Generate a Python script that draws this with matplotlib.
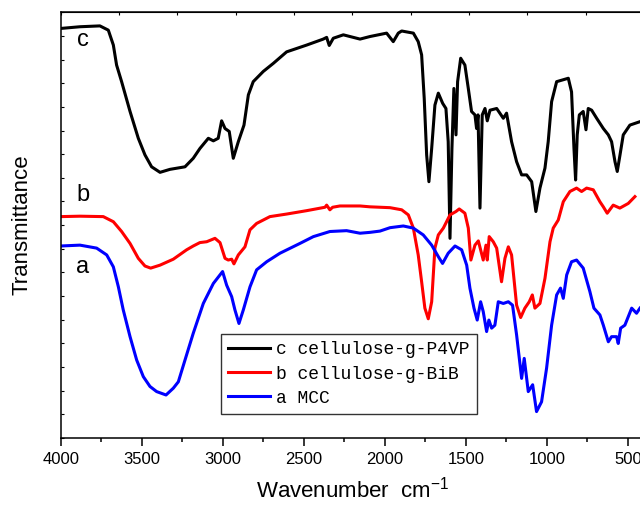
import numpy as np
import matplotlib.pyplot as plt
from matplotlib.ticker import MultipleLocator

plt.rcParams['font.family'] = ['Liberation Sans', 'DejaVu Sans']
plt.rcParams['mathtext.fontset'] = 'custom'
plt.rcParams['mathtext.rm'] = 'Liberation Sans'

# c cellulose-g-P4VP
wn_c = [4000, 3881, 3758, 3706, 3675, 3655, 3624, 3572, 3521, 3480, 3439, 3387, 3326, 3233,
        3182, 3141, 3089, 3058, 3028, 3007, 2986, 2960, 2935, 2904, 2869, 2842, 2812, 2750,
        2688, 2606, 2482, 2380, 2359, 2343, 2318, 2256, 2153, 2092, 1989, 1948, 1917, 1896,
        1824, 1794, 1773, 1757, 1742, 1728, 1711, 1691, 1670, 1643, 1623, 1609, 1598, 1586,
        1574, 1561, 1551, 1532, 1506, 1485, 1465, 1444, 1434, 1425, 1413, 1399, 1382, 1368,
        1351, 1310, 1269, 1249, 1218, 1187, 1156, 1125, 1094, 1068, 1043, 1012, 992, 971, 940,
        868, 848, 833, 823, 813, 800, 776, 759, 745, 724, 693, 652, 621, 601, 580, 566, 549,
        529, 488, 426]
t_c = [96.2, 96.6, 96.8, 95.8, 92.3, 87.6, 83.7, 76.7, 70.4, 66.5, 63.7, 62.4, 63.1, 63.7,
       65.7, 68.0, 70.4, 69.8, 70.4, 74.5, 72.7, 72.0, 65.7, 69.6, 73.5, 80.6, 83.7, 86.1,
       88.0, 90.7, 92.3, 93.7, 94.1, 92.2, 93.9, 94.7, 93.7, 94.3, 95.1, 93.1, 95.1, 95.6,
       95.1, 93.1, 90.0, 79.8, 66.5, 60.2, 68.0, 78.2, 81.0, 78.6, 77.4, 69.6, 46.9, 68.0,
       82.1, 71.2, 83.7, 89.2, 87.6, 82.1, 76.7, 75.9, 72.7, 75.9, 54.0, 75.9, 77.4, 74.5,
       77.0, 77.4, 75.1, 76.3, 69.6, 64.9, 61.8, 61.8, 60.2, 53.2, 58.7, 63.4, 69.6, 79.0, 83.7,
       84.5, 81.3, 68.0, 60.6, 71.2, 75.9, 76.7, 72.4, 77.4, 77.0, 75.1, 72.7, 71.2, 69.6, 64.9,
       62.6, 66.5, 71.2, 73.5, 74.3]

# b cellulose-g-BiB
wn_b = [4000, 3881, 3737, 3675, 3624, 3572, 3521, 3480, 3445, 3387, 3305, 3223, 3182, 3141,
        3099, 3048, 3017, 2986, 2966, 2945, 2931, 2904, 2863, 2832, 2791, 2709, 2606, 2482,
        2369, 2359, 2339, 2322, 2277, 2153, 2092, 1968, 1896, 1855, 1824, 1794, 1773, 1753,
        1732, 1711, 1691, 1670, 1639, 1598, 1561, 1541, 1506, 1485, 1469, 1444, 1423, 1393,
        1376, 1368, 1356, 1331, 1310, 1280, 1259, 1238, 1218, 1187, 1162, 1136, 1109, 1090,
        1074, 1043, 1012, 981, 961, 930, 899, 858, 817, 786, 755, 714, 673, 652, 628, 591,
        550, 498, 457]
t_b = [52.0, 52.1, 52.0, 50.8, 48.5, 45.7, 42.2, 40.4, 39.9, 40.6, 42.0, 44.2, 45.1, 45.9,
       46.1, 46.9, 45.9, 42.2, 41.8, 42.0, 40.9, 43.0, 44.9, 48.9, 50.4, 52.0, 52.6, 53.4,
       54.2, 54.7, 53.6, 54.2, 54.5, 54.5, 54.3, 54.1, 53.6, 52.4, 49.3, 43.0, 36.7, 30.5,
       28.0, 32.0, 44.6, 47.7, 49.3, 52.4, 53.2, 53.8, 52.8, 49.3, 41.8, 45.3, 46.3, 41.8,
       45.3, 41.8, 47.3, 46.1, 44.6, 36.7, 42.2, 44.9, 43.0, 31.2, 28.3, 30.5, 32.0, 33.6,
       30.5, 31.6, 37.5, 46.1, 49.3, 51.2, 55.5, 57.9, 58.7, 57.9, 58.7, 58.3, 55.5, 54.3,
       52.8, 54.7, 54.0, 55.1, 56.7]

# a MCC
wn_a = [4000, 3881, 3778, 3716, 3675, 3644, 3614, 3572, 3531, 3490, 3449, 3408, 3350, 3305,
        3274, 3233, 3182, 3120, 3058, 3001, 2976, 2945, 2925, 2900, 2873, 2832, 2791, 2729,
        2647, 2524, 2441, 2339, 2236, 2153, 2092, 2030, 1968, 1886, 1824, 1763, 1711, 1670,
        1644, 1609, 1567, 1526, 1495, 1475, 1450, 1430, 1409, 1393, 1372, 1358, 1341, 1321,
        1300, 1269, 1238, 1212, 1187, 1156, 1140, 1115, 1088, 1064, 1033, 1002, 971, 940, 916,
        899, 878, 848, 817, 776, 735, 710, 673, 652, 621, 601, 570, 560, 545, 519, 477, 447, 426]
t_a = [45.1, 45.3, 44.6, 43.0, 40.2, 35.5, 30.1, 23.8, 18.3, 14.4, 12.1, 10.9, 10.1, 11.7,
       13.2, 18.3, 24.6, 31.6, 36.3, 39.1, 35.9, 33.2, 30.1, 26.9, 30.1, 35.5, 39.5, 41.4,
       43.4, 45.7, 47.3, 48.5, 48.7, 48.1, 48.3, 48.6, 49.4, 49.8, 49.3, 47.7, 45.3, 42.6,
       41.0, 43.4, 45.1, 44.2, 40.6, 35.2, 30.5, 27.7, 32.0, 29.7, 25.0, 27.7, 25.8, 26.5,
       32.0, 31.6, 32.0, 31.2, 24.2, 14.0, 18.7, 10.9, 12.5, 6.2, 8.5, 16.4, 26.5, 33.6, 35.2,
       32.8, 38.3, 41.4, 41.8, 39.9, 34.4, 30.5, 28.9, 26.5, 22.6, 23.8, 23.8, 22.2, 25.8,
       26.5, 30.5, 29.3, 30.5]

labels = ['c cellulose-g-P4VP', 'b cellulose-g-BiB', 'a MCC']
colors = ['black', 'red', 'blue']

fig = plt.figure(figsize=(6.4, 5.05), dpi=100)
ax = fig.add_axes([0.0948, 0.1327, 0.9117, 0.843])

for wn, t, c, lab in zip([wn_c, wn_b, wn_a], [t_c, t_b, t_a], colors, labels):
    ax.plot(wn, t, color=c, lw=2.2, label=lab, solid_joinstyle='round')

ax.set_xlim(4000, 400)
ax.set_ylim(0, 100)

ax.text(3862, 93.4, 'c', fontsize=17, ha='center', va='center')
ax.text(3862, 57, 'b', fontsize=17, ha='center', va='center')
ax.text(3862, 40.2, 'a', fontsize=17, ha='center', va='center')

ax.xaxis.set_major_locator(MultipleLocator(500))
ax.xaxis.set_minor_locator(MultipleLocator(250))
ax.set_yticks(np.linspace(0, 100, 19))
ax.tick_params(axis='x', which='major', direction='out', length=6, width=1.1, labelsize=12, pad=4)
ax.tick_params(axis='x', which='minor', direction='out', length=3, width=1.1)
ax.tick_params(axis='y', direction='in', length=2, width=0.8, labelleft=False)
for s in ax.spines.values():
    s.set_linewidth(1.1)

top = ax.secondary_xaxis('top')
top.set_xticks(np.linspace(4000, 400, 11))
top.tick_params(direction='in', length=2, width=0.8, labeltop=False)

ax.set_xlabel('Wavenumber  cm$^{-1}$', fontsize=16, labelpad=7)
ax.set_ylabel('Transmittance', fontsize=16, labelpad=20)

leg = ax.legend(loc='upper left', bbox_to_anchor=(0.2747, 0.244),
                prop={'family': 'Liberation Mono', 'size': 13},
                frameon=True, fancybox=False, edgecolor='black', handlelength=2.3,
                handletextpad=0.35, labelspacing=0.4, borderpad=0.4, borderaxespad=0)
leg.get_frame().set_linewidth(1.0)

fig.savefig('out.png', dpi=100)
